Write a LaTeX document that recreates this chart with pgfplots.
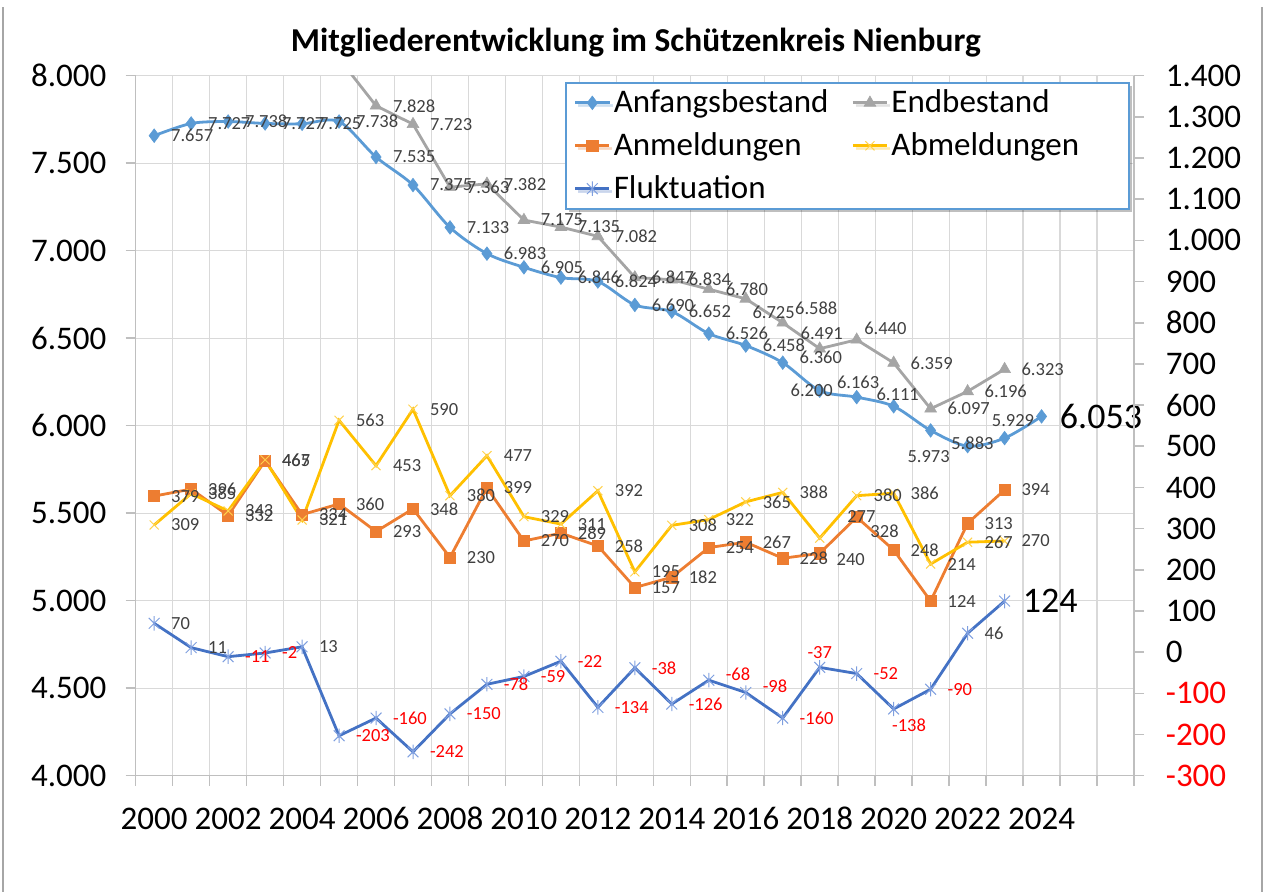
\documentclass[border=0pt]{standalone}
\usepackage{pgfplots}
\usepackage{pgfplotstable}
\pgfplotsset{compat=1.18}
\usepackage{fontspec}
\setmainfont{Carlito}
\usetikzlibrary{shadows}
\definecolor{cAnf}{HTML}{5B9BD5}
\definecolor{cEnd}{HTML}{A5A5A5}
\definecolor{cAnm}{HTML}{ED7D31}
\definecolor{cAbm}{HTML}{FFC000}
\definecolor{cAbmM}{HTML}{FFD24D}
\definecolor{cFlu}{HTML}{4472C4}
\definecolor{cFluM}{HTML}{7F9FDF}
\definecolor{cGrid}{HTML}{D9D9D9}
\definecolor{cAxis}{HTML}{BFBFBF}
\definecolor{cLab}{HTML}{404040}
\definecolor{cFrame}{HTML}{A6A6A6}
\newcommand\tickfont{\fontsize{16.5}{19}\selectfont}
\newcommand\lblfont{\fontsize{9.25}{11}\selectfont}
\newcommand\bigfont{\fontsize{18}{21}\selectfont}
\pgfdeclareplotmark{xstar}{%
  \pgfpathmoveto{\pgfqpoint{-0.75\pgfplotmarksize}{-0.75\pgfplotmarksize}}%
  \pgfpathlineto{\pgfqpoint{0.75\pgfplotmarksize}{0.75\pgfplotmarksize}}%
  \pgfpathmoveto{\pgfqpoint{-0.75\pgfplotmarksize}{0.75\pgfplotmarksize}}%
  \pgfpathlineto{\pgfqpoint{0.75\pgfplotmarksize}{-0.75\pgfplotmarksize}}%
  \pgfpathmoveto{\pgfqpoint{0pt}{-\pgfplotmarksize}}%
  \pgfpathlineto{\pgfqpoint{0pt}{\pgfplotmarksize}}%
  \pgfusepathqstroke}

\pgfplotstableread{
x y
0 7657
1 7727
2 7738
3 7727
4 7725
5 7738
6 7535
7 7375
8 7133
9 6983
10 6905
11 6846
12 6824
13 6690
14 6652
15 6526
16 6458
17 6360
18 6200
19 6163
20 6111
21 5973
22 5883
23 5929
24 6053
}\tAnf
\pgfplotstableread{
x y
0 8036
1 8123
2 8070
3 8192
4 8059
5 8098
6 7828
7 7723
8 7363
9 7382
10 7175
11 7135
12 7082
13 6847
14 6834
15 6780
16 6725
17 6588
18 6440
19 6491
20 6359
21 6097
22 6196
23 6323
}\tEnd
\pgfplotstableread{
x y
0 379
1 396
2 332
3 465
4 334
5 360
6 293
7 348
8 230
9 399
10 270
11 289
12 258
13 157
14 182
15 254
16 267
17 228
18 240
19 328
20 248
21 124
22 313
23 394
}\tAnm
\pgfplotstableread{
x y
0 309
1 385
2 343
3 467
4 321
5 563
6 453
7 590
8 380
9 477
10 329
11 311
12 392
13 195
14 308
15 322
16 365
17 388
18 277
19 380
20 386
21 214
22 267
23 270
}\tAbm
\pgfplotstableread{
x y
0 70
1 11
2 -11
3 -2
4 13
5 -203
6 -160
7 -242
8 -150
9 -78
10 -59
11 -22
12 -134
13 -38
14 -126
15 -68
16 -98
17 -160
18 -37
19 -52
20 -138
21 -90
22 46
23 124
}\tFlu

\pgfplotsset{
  lab/.style={draw=none, mark=none, forget plot, nodes near coords,
    point meta=explicit symbolic,
    every node near coord/.append style={font=\lblfont, text=cLab, inner sep=0pt, #1}},
  lab/.default={anchor=west, xshift=8.3pt},
  sAnf/.style={cAnf, line width=1.4pt, smooth, tension=0.5, mark=diamond*, mark size=3.4pt,
    mark options={fill=cAnf, draw=cAnf, line width=0.3pt, solid}},
  sEnd/.style={cEnd, line width=1.4pt, mark=triangle*, mark size=3.4pt,
    mark options={fill=cEnd, draw=cEnd, line width=0.3pt, solid}},
  sAnm/.style={cAnm, line width=1.4pt, mark=square*, mark size=2.8pt,
    mark options={fill=cAnm, draw=cAnm, line width=0.3pt, solid}},
  sAbm/.style={cAbm, line width=1.4pt, mark=x, mark size=3.2pt,
    mark options={draw=cAbmM, line width=0.5pt, solid}},
  sFlu/.style={cFlu, line width=1.4pt, mark=xstar, mark size=3.6pt,
    mark options={draw=cFluM, line width=0.5pt, solid}},
  common/.style={
    at={(0,0)}, anchor=south west, scale only axis,
    width=499.15pt, height=350pt,
    xmin=-0.5, xmax=26.5,
    scaled y ticks=false,
    tick align=outside, major tick length=5pt,
    tick style={cAxis, line width=0.8pt},
    axis line style={cAxis, line width=0.8pt},
    clip=true,
  },
}

\begin{document}
\begin{tikzpicture}
\useasboundingbox (-67.85pt,-58.15pt) rectangle (564.15pt,387.85pt);
\begin{axis}[common,
  ymin=4000, ymax=8000,
  axis x line*=bottom, axis y line*=left,
  xtick={-0.5,0.5,...,26.5}, xticklabels={},
  xmajorgrids, ymajorgrids,
  grid style={cGrid, line width=0.6pt},
  extra x ticks={0,2,...,24},
  extra x tick labels={2000,2002,2004,2006,2008,2010,2012,2014,2016,2018,2020,2022,2024},
  extra x tick style={grid=none, major tick length=0pt, tick style={draw=none}},
  xticklabel style={font=\tickfont, text=black, anchor=base, inner sep=0pt, yshift=-26.8pt},
  ytick={4000,4500,...,8000},
  yticklabel={\pgfmathprintnumber[assume math mode=true,1000 sep={.},fixed,precision=0]{\tick}},
  yticklabel style={font=\tickfont, text=black, anchor=east, inner sep=0pt, xshift=-9.5pt},
  title={Mitgliederentwicklung im Schützenkreis Nienburg},
  every axis title/.style={at={(0.5,1)}, anchor=base, yshift=11.85pt, xshift=0.5pt,
    font=\bfseries\fontsize{16.7}{20}\selectfont},
]
\addplot[sEnd] table {\tEnd};
\addplot[sAnf] table {\tAnf};
% labels Anfangsbestand
\addplot[lab] table[meta=lab] {
x y lab
0 7657 7.657
1 7727 7.727
2 7738 7.738
3 7727 7.727
4 7725 7.725
5 7738 7.738
6 7535 7.535
7 7375 7.375
8 7133 7.133
9 6983 6.983
10 6905 6.905
11 6846 6.846
12 6824 6.824
13 6690 6.690
14 6652 6.652
15 6526 6.526
16 6458 6.458
};
\addplot[lab={anchor=west, xshift=8.3pt, yshift=2.5pt}] coordinates {(17,6360) [6.360]};
\addplot[lab={anchor=center, xshift=-4pt}] coordinates {(18,6200) [6.200]};
\addplot[lab={anchor=center, xshift=0.7pt, yshift=7.3pt}] coordinates {(19,6163) [6.163]};
\addplot[lab={anchor=center, xshift=2pt, yshift=6.2pt}] coordinates {(20,6111) [6.111]};
\addplot[lab={anchor=center, xshift=-1pt, yshift=-13pt}] coordinates {(21,5973) [5.973]};
\addplot[lab={anchor=center, xshift=2.4pt, yshift=1.7pt}] coordinates {(22,5883) [5.883]};
\addplot[lab={anchor=center, xshift=4.2pt, yshift=8.6pt}] coordinates {(23,5929) [5.929]};
\addplot[lab={anchor=west, xshift=9pt, font=\bigfont, text=black}] coordinates {(24,6053) [6.053]};
% labels Endbestand
\addplot[lab] table[meta=lab] {
x y lab
6 7828 7.828
7 7723 7.723
8 7363 7.363
9 7382 7.382
10 7175 7.175
11 7135 7.135
12 7082 7.082
13 6847 6.847
14 6834 6.834
15 6780 6.780
20 6359 6.359
21 6097 6.097
22 6196 6.196
23 6323 6.323
};
\addplot[lab={anchor=west, xshift=3.2pt, yshift=-7pt}] coordinates {(16,6725) [6.725]};
\addplot[lab={anchor=west, xshift=6pt, yshift=7.5pt}] coordinates {(17,6588) [6.588]};
\addplot[lab={anchor=center, xshift=1pt, yshift=7.5pt}] coordinates {(18,6440) [6.491]};
\addplot[lab={anchor=west, xshift=3.6pt, yshift=5.5pt}] coordinates {(19,6491) [6.440]};
\end{axis}

\begin{axis}[common,
  ymin=-300, ymax=1400,
  hide x axis, axis y line*=right,
  ytick={-300,-200,...,1400},
  yticklabel={\ifdim\tick pt<0pt\color{red}\fi\pgfmathprintnumber[assume math mode=true,1000 sep={.},fixed,precision=0]{\tick}},
  yticklabel style={font=\tickfont, text=black, anchor=west, inner sep=0pt, xshift=10.75pt},
  legend columns=2,
  legend cell align=left,
  legend style={at={(0.4300,0.991)}, anchor=north west, draw=cAnf, line width=0.9pt,
    fill=white, font=\fontsize{16.5}{19}\selectfont, text=black,
    inner xsep=4pt, inner ysep=2pt, row sep=5.5pt,
    /tikz/every even column/.append style={column sep=10pt},
    nodes={inner sep=1.5pt},
    drop shadow={shadow xshift=1.5pt, shadow yshift=-1.5pt, fill=black, opacity=0.25}},
]
\addlegendimage{sAnf}\addlegendentry{Anfangsbestand}
\addlegendimage{sEnd}\addlegendentry{Endbestand}
\addplot[sAnm] table {\tAnm}; \addlegendentry{Anmeldungen}
\addplot[sAbm] table {\tAbm}; \addlegendentry{Abmeldungen\hspace*{19.5pt}}
\addplot[sFlu] table {\tFlu}; \addlegendentry{Fluktuation}
% labels Anmeldungen
\addplot[lab] table[meta=lab] {
x y lab
0 379 379
1 396 396
2 332 332
3 465 465
4 334 334
5 360 360
6 293 293
7 348 348
8 230 230
9 399 399
10 270 270
11 289 289
12 258 258
13 157 157
14 182 182
15 254 254
16 267 267
17 228 228
20 248 248
21 124 124
22 313 313
23 394 394
};
\addplot[lab={anchor=west, xshift=8.3pt, yshift=-3pt}] coordinates {(18,240) [240]};
\addplot[lab={anchor=west, xshift=6.7pt, yshift=-7pt}] coordinates {(19,328) [328]};
% labels Abmeldungen
\addplot[lab] table[meta=lab] {
x y lab
0 309 309
1 385 385
2 343 343
3 467 467
4 321 321
5 563 563
6 453 453
7 590 590
8 380 380
9 477 477
10 329 329
11 311 311
12 392 392
13 195 195
14 308 308
15 322 322
16 365 365
17 388 388
19 380 380
20 386 386
21 214 214
22 267 267
23 270 270
};
\addplot[lab={anchor=west, xshift=13.6pt, yshift=11pt}] coordinates {(18,277) [277]};
% labels Fluktuation
\addplot[lab] table[meta=lab] {
x y lab
0 70 70
1 11 11
4 13 13
22 46 46
};
\addplot[lab={anchor=west, xshift=8.3pt, text=red}] table[meta=lab] {
x y lab
2 -11 -11
3 -2 -2
5 -203 -203
6 -160 -160
7 -242 -242
8 -150 -150
9 -78 -78
10 -59 -59
11 -22 -22
12 -134 -134
13 -38 -38
14 -126 -126
17 -160 -160
19 -52 -52
21 -90 -90
};
\addplot[lab={anchor=west, xshift=8.3pt, yshift=3pt, text=red}] table[meta=lab] {
x y lab
15 -68 -68
16 -98 -98
};
\addplot[lab={anchor=center, yshift=7.3pt, text=red}] coordinates {(18,-37) [-37]};
\addplot[lab={anchor=center, xshift=7.7pt, yshift=-8pt, text=red}] coordinates {(20,-138) [-138]};
\addplot[lab={anchor=west, xshift=9pt, font=\bigfont, text=black}] coordinates {(23,124) [124]};
\end{axis}
\draw[cFrame, line width=0.7pt] (-66.35pt,-58.15pt) -- (-66.35pt,384.5pt);
\draw[cFrame, line width=0.7pt] (563.15pt,-58.15pt) -- (563.15pt,384.5pt);
\end{tikzpicture}
\end{document}
